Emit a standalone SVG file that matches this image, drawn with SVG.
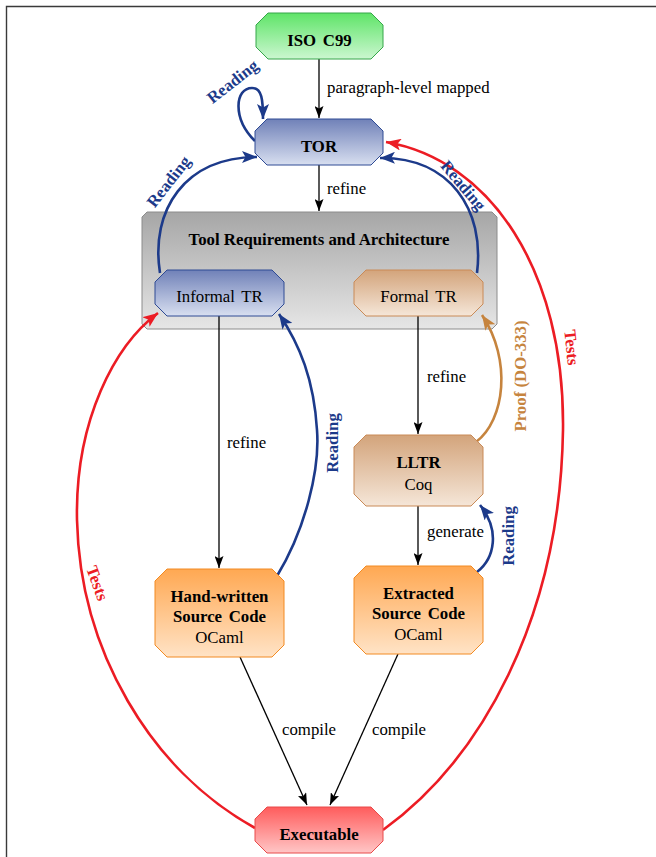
<svg xmlns="http://www.w3.org/2000/svg" width="656" height="857" viewBox="0 0 656 857">
<style>
text{font-family:"Liberation Serif","Times New Roman",serif;font-size:16.8px;fill:#000}
.b{font-weight:bold}
.c{text-anchor:middle}
.ws{word-spacing:2.5px}
.blk{fill:none;stroke:#000;stroke-width:1.3}
.blu{fill:none;stroke:#1c3a8a;stroke-width:2.6}
.red{fill:none;stroke:#ec1c24;stroke-width:2.6}
.tan{fill:none;stroke:#c6843e;stroke-width:2.6}
.tb{fill:#1c3a8a;font-weight:bold}
.tr{fill:#ec1c24;font-weight:bold}
.tt{fill:#c6843e;font-weight:bold}
</style>
<defs>
<linearGradient id="gG" x1="0" y1="0" x2="0" y2="1"><stop offset="0" stop-color="#5fe468"/><stop offset="1" stop-color="#cbf7d0"/></linearGradient>
<linearGradient id="gB" x1="0" y1="0" x2="0" y2="1"><stop offset="0" stop-color="#7081b8"/><stop offset="1" stop-color="#d8dff0"/></linearGradient>
<linearGradient id="gS" x1="0" y1="0" x2="0" y2="1"><stop offset="0" stop-color="#a6a6a6"/><stop offset="1" stop-color="#e6e6e6"/></linearGradient>
<linearGradient id="gT" x1="0" y1="0" x2="0" y2="1"><stop offset="0" stop-color="#d3a47b"/><stop offset="1" stop-color="#f5e6d8"/></linearGradient>
<linearGradient id="gO" x1="0" y1="0" x2="0" y2="1"><stop offset="0" stop-color="#ffa852"/><stop offset="1" stop-color="#ffe3c6"/></linearGradient>
<linearGradient id="gR" x1="0" y1="0" x2="0" y2="1"><stop offset="0" stop-color="#ff5c5c"/><stop offset="1" stop-color="#ffc6c6"/></linearGradient>
<marker id="aK" markerUnits="userSpaceOnUse" markerWidth="12" markerHeight="9" refX="12" refY="4.5" orient="auto"><path d="M0,0 L12,4.5 L0,9 L2.5,4.5 z" fill="#000"/></marker>
<marker id="aB" markerUnits="userSpaceOnUse" markerWidth="15" markerHeight="12" refX="15" refY="6" orient="auto"><path d="M0,0 L15,6 L0,12 L3.5,6 z" fill="#1c3a8a"/></marker>
<marker id="aR" markerUnits="userSpaceOnUse" markerWidth="15" markerHeight="12" refX="15" refY="6" orient="auto"><path d="M0,0 L15,6 L0,12 L3.5,6 z" fill="#ec1c24"/></marker>
<marker id="aT" markerUnits="userSpaceOnUse" markerWidth="15" markerHeight="12" refX="15" refY="6" orient="auto"><path d="M0,0 L15,6 L0,12 L3.5,6 z" fill="#c6843e"/></marker>
</defs>
<rect width="656" height="857" fill="#fff"/>
<path d="M6.5 857 V6.5 H656" fill="none" stroke="#3a3a3a" stroke-width="1.4"/>

<g id="tool-req">
<polygon points="147,212 492,212 497,217 497,324 492,329 147,329 142,324 142,217" fill="url(#gS)" stroke="#8c8c8c" stroke-width="1"/>
<text class="b c" x="319" y="245">Tool Requirements and Architecture</text>
</g>

<g id="connectors">
<path class="blk" d="M319 59 V118" marker-end="url(#aK)"/>
<path class="blk" d="M319 165 V211" marker-end="url(#aK)"/>
<path class="blk" d="M219 316 V568" marker-end="url(#aK)"/>
<path class="blk" d="M418 316 V434" marker-end="url(#aK)"/>
<path class="blk" d="M418 506 V565" marker-end="url(#aK)"/>
<path class="blk" d="M240 657 L307 805" marker-end="url(#aK)"/>
<path class="blk" d="M398 654 L330 805" marker-end="url(#aK)"/>
<path class="blu" d="M255 141 C232 118 235 88 252 88 C262 88 263 100 263 119" marker-end="url(#aB)"/>
<path class="blu" d="M160 273 C150 210 185 157 257 157" marker-end="url(#aB)"/>
<path class="blu" d="M477 273 C485 210 450 157 380 158" marker-end="url(#aB)"/>
<path class="blu" d="M277 576 C305 530 320 470 317 430 C314 380 300 345 279 314" marker-end="url(#aB)"/>
<path class="blu" d="M477 572 C495 558 500 530 480 505" marker-end="url(#aB)"/>
<path class="tan" d="M476 442 C505 420 512 360 482 315" marker-end="url(#aT)"/>
<path class="red" d="M383 830 C480 760 560 620 563 430 C565 270 490 160 386 142" marker-end="url(#aR)"/>
<path class="red" d="M255 828 C150 770 80 650 77 520 C75 420 115 345 158 313" marker-end="url(#aR)"/>
<text x="327" y="93">paragraph-level mapped</text>
<text x="327" y="194">refine</text>
<text x="427" y="382">refine</text>
<text x="227" y="448">refine</text>
<text x="427" y="537">generate</text>
<text x="282" y="735">compile</text>
<text x="372" y="735">compile</text>
<text class="tb c" transform="translate(236,86) rotate(-38)">Reading</text>
<text class="tb c" transform="translate(173,185) rotate(-52)">Reading</text>
<text class="tb c" transform="translate(459,189) rotate(50)">Reading</text>
<text class="tb c" transform="translate(338,443) rotate(-90)">Reading</text>
<text class="tb c" transform="translate(514,536) rotate(-90)">Reading</text>
<text class="tt c" transform="translate(526,376) rotate(-90)">Proof (DO-333)</text>
<text class="tr c" transform="translate(566,348) rotate(84)">Tests</text>
<text class="tr c" transform="translate(92,585) rotate(70)">Tests</text>
</g>

<g id="iso-c99">
<polygon points="268,13 371,13 383,25 383,47 371,59 268,59 256,47 256,25" fill="url(#gG)" stroke="#36a64a" stroke-width="1"/>
<text class="b c ws" x="319.5" y="46">ISO C99</text>
</g>
<g id="tor">
<polygon points="267,119 371,119 383,131 383,153 371,165 267,165 255,153 255,131" fill="url(#gB)" stroke="#2e4a94" stroke-width="1"/>
<text class="b c" x="319" y="152">TOR</text>
</g>
<g id="informal-tr">
<polygon points="167,270 272,270 284,282 284,304 272,316 167,316 155,304 155,282" fill="url(#gB)" stroke="#2e4a94" stroke-width="1"/>
<text class="c ws" x="219.5" y="302">Informal TR</text>
</g>
<g id="formal-tr">
<polygon points="366,270 471,270 483,282 483,304 471,316 366,316 354,304 354,282" fill="url(#gT)" stroke="#c98a57" stroke-width="1"/>
<text class="c ws" x="418.5" y="302">Formal TR</text>
</g>
<g id="lltr">
<polygon points="366,435 471,435 483,447 483,494 471,506 366,506 354,494 354,447" fill="url(#gT)" stroke="#c98a57" stroke-width="1"/>
<text class="b c" x="418.5" y="468">LLTR</text>
<text class="c" x="418.5" y="490">Coq</text>
</g>
<g id="hand-written">
<polygon points="167,569 272,569 284,581 284,645 272,657 167,657 155,645 155,581" fill="url(#gO)" stroke="#f28a22" stroke-width="1"/>
<text class="b c" x="219.5" y="602">Hand-written</text>
<text class="b c ws" x="219.5" y="622">Source Code</text>
<text class="c" x="219.5" y="643">OCaml</text>
</g>
<g id="extracted">
<polygon points="366,566 471,566 483,578 483,642 471,654 366,654 354,642 354,578" fill="url(#gO)" stroke="#f28a22" stroke-width="1"/>
<text class="b c" x="418.5" y="599">Extracted</text>
<text class="b c ws" x="418.5" y="619">Source Code</text>
<text class="c" x="418.5" y="640">OCaml</text>
</g>
<g id="executable">
<polygon points="267,807 371,807 383,819 383,841 371,853 267,853 255,841 255,819" fill="url(#gR)" stroke="#e84a4a" stroke-width="1"/>
<text class="b c" x="319" y="840">Executable</text>
</g>
</svg>
